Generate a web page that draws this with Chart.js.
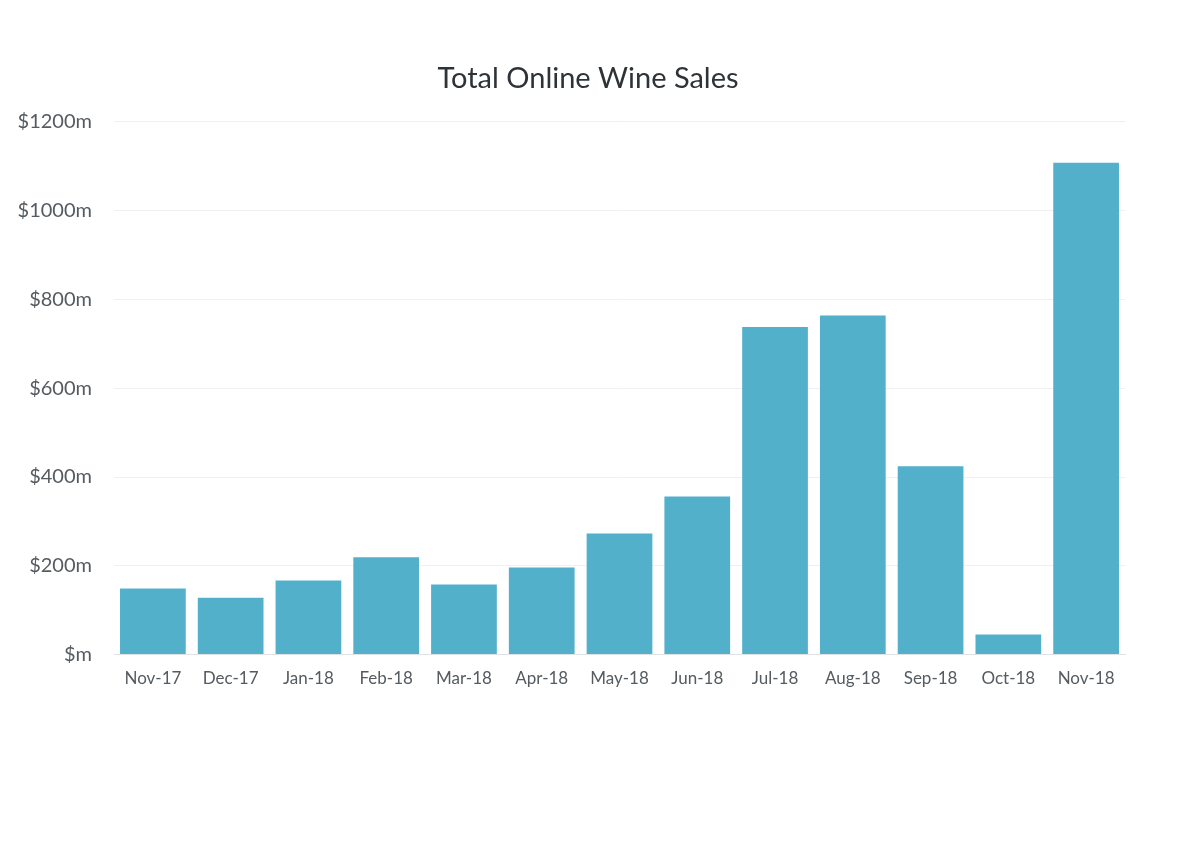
<!DOCTYPE html>
<html>
<head>
<meta charset="utf-8">
<script src="https://cdn.jsdelivr.net/npm/chart.js@4/dist/chart.umd.min.js"></script>
<style>
html,body{margin:0;padding:0;background:#fff;}
#wrap{width:1200px;height:848px;position:relative;}
</style>
</head>
<body>
<div id="wrap"><canvas id="c" width="1200" height="848"></canvas></div>
<script>
const categories = ["Nov-17","Dec-17","Jan-18","Feb-18","Mar-18","Apr-18","May-18","Jun-18","Jul-18","Aug-18","Sep-18","Oct-18","Nov-18"];
const salesMillions = [149, 128, 167, 219, 158, 196, 273, 356, 738, 764, 424, 45, 1108];
const yTickValues = [0, 200, 400, 600, 800, 1000, 1200];
const chartTitle = "Total Online Wine Sales";

const ctx = document.getElementById('c');
new Chart(ctx, {
  type: 'bar',
  data: {
    labels: categories,
    datasets: [{
      data: salesMillions,
      backgroundColor: '#52b0cb',
      borderWidth: 0,
      categoryPercentage: 1.0,
      barPercentage: 0.845
    }]
  },
  options: {
    responsive: false,
    animation: false,
    devicePixelRatio: 1,
    layout: { padding: { left: 16, right: 40, top: 0, bottom: 145 } },
    plugins: {
      legend: { display: false },
      tooltip: { enabled: false },
      title: {
        display: true,
        text: chartTitle,
        color: '#2e3338',
        font: { family: 'Lato', size: 29, weight: 'normal' },
        padding: { top: 61, bottom: 26 }
      }
    },
    scales: {
      x: {
        grid: { display: false, drawTicks: false },
        border: { display: true, color: '#dfe3e6', width: 1 },
        ticks: { color: '#555b60', font: { family: 'Lato', size: 17 }, padding: 14, maxRotation: 0 }
      },
      y: {
        min: 0,
        max: 1200,
        afterBuildTicks: s => { s.ticks = yTickValues.map(v => ({ value: v })); },
        afterFit: s => { s.width = 98; },
        grid: { color: '#eef1f3', drawTicks: false },
        border: { display: false },
        ticks: {
          color: '#555b60',
          font: { family: 'Lato', size: 20 },
          padding: 22,
          callback: v => '$' + (v === 0 ? '' : v) + 'm'
        }
      },
      yPad: {
        position: 'right',
        display: true,
        grid: { display: false, drawTicks: false },
        border: { display: false },
        ticks: { display: false },
        afterFit: s => { s.width = 35; }
      }
    }
  }
});
</script>
</body>
</html>
